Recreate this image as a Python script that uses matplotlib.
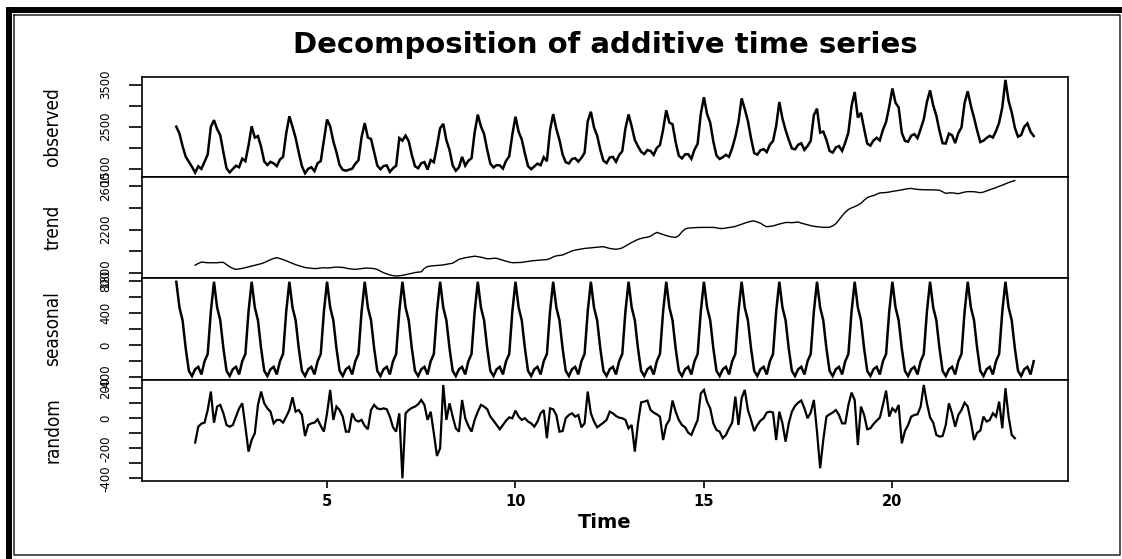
import numpy as np
import matplotlib
matplotlib.use("Agg")
import matplotlib.pyplot as plt
from matplotlib.lines import Line2D
from matplotlib import font_manager
from matplotlib.ticker import FixedLocator, FixedFormatter

# ---------------- data (monthly series, frequency 12, start = 1) ----------------
start_time = 1.0
frequency = 12

observed = [
    2500, 2340, 2040, 1790, 1670, 1550, 1413, 1564, 1502, 1671, 1842, 2495,
    2657, 2445, 2299, 1893, 1515, 1419, 1500, 1577, 1541, 1745, 1686, 2056,
    2511, 2243, 2279, 2026, 1678, 1593, 1669, 1632, 1568, 1724, 1787, 2345,
    2748, 2501, 2233, 1885, 1564, 1400, 1504, 1542, 1449, 1638, 1688, 2182,
    2672, 2509, 2154, 1895, 1591, 1480, 1459, 1483, 1507, 1625, 1708, 2254,
    2586, 2245, 2211, 1892, 1581, 1495, 1571, 1585, 1431, 1519, 1576, 2231,
    2171, 2290, 2158, 1829, 1565, 1518, 1636, 1664, 1486, 1711, 1660, 2041,
    2464, 2569, 2181, 1947, 1584, 1458, 1539, 1788, 1578, 1697, 1753, 2366,
    2787, 2507, 2328, 1953, 1625, 1537, 1592, 1585, 1509, 1695, 1799, 2317,
    2739, 2380, 2199, 1864, 1567, 1495, 1561, 1627, 1589, 1778, 1683, 2421,
    2800, 2452, 2185, 1843, 1660, 1630, 1738, 1754, 1675, 1763, 1884, 2629,
    2856, 2485, 2290, 1957, 1695, 1640, 1772, 1787, 1670, 1829, 1923, 2459,
    2791, 2508, 2185, 2037, 1906, 1853, 1949, 1925, 1833, 2001, 2066, 2429,
    2891, 2597, 2560, 2134, 1814, 1750, 1845, 1849, 1741, 1958, 2099, 2807,
    3200, 2802, 2597, 2147, 1819, 1737, 1778, 1835, 1788, 1995, 2264, 2615,
    3172, 2919, 2635, 2226, 1875, 1840, 1944, 1970, 1900, 2074, 2162, 2518,
    3086, 2695, 2420, 2192, 1988, 1964, 2074, 2108, 1953, 2044, 2165, 2773,
    2929, 2361, 2386, 2192, 1928, 1888, 2010, 2042, 1928, 2126, 2364, 2991,
    3323, 2717, 2830, 2452, 2101, 2053, 2175, 2239, 2176, 2428, 2615, 2976,
    3407, 3069, 2959, 2358, 2165, 2146, 2289, 2325, 2230, 2445, 2678, 3086,
    3362, 3006, 2763, 2400, 2110, 2103, 2337, 2301, 2113, 2352, 2482, 3069,
    3340, 2996, 2713, 2408, 2137, 2171, 2234, 2285, 2244, 2397, 2599, 2961,
    3610, 3113, 2841, 2477, 2264, 2303, 2500, 2579, 2380, 2280,
]

# trend and random are defined from t = 1.5 (6 months in) to 6 months before the end
trend_start = 1.5
trend = [
    1875, 1890, 1903, 1900, 1897, 1897,
    1897, 1897, 1900, 1900, 1880, 1860, 1845, 1836, 1840, 1845, 1852, 1858,
    1866, 1873, 1880, 1888, 1898, 1912, 1925, 1936, 1944, 1935, 1926, 1914,
    1903, 1891, 1879, 1870, 1862, 1853, 1849, 1846, 1843, 1845, 1849, 1851,
    1849, 1850, 1855, 1857, 1856, 1854, 1848, 1842, 1839, 1836, 1840, 1845,
    1847, 1848, 1846, 1843, 1835, 1820, 1805, 1795, 1785, 1779, 1775, 1778,
    1781, 1787, 1793, 1800, 1807, 1810, 1814, 1845, 1862, 1867, 1870, 1872,
    1874, 1877, 1882, 1887, 1893, 1910, 1928, 1936, 1943, 1948, 1952, 1957,
    1953, 1948, 1940, 1933, 1934, 1938, 1937, 1928, 1919, 1911, 1903, 1897,
    1898, 1899, 1900, 1904, 1909, 1914, 1917, 1919, 1921, 1923, 1926, 1935,
    1950, 1960, 1964, 1968, 1980, 1993, 2005, 2013, 2018, 2023, 2028, 2031,
    2033, 2037, 2040, 2042, 2044, 2036, 2028, 2024, 2020, 2025, 2033, 2050,
    2068, 2083, 2097, 2111, 2120, 2127, 2131, 2140, 2160, 2175, 2165, 2154,
    2146, 2138, 2132, 2130, 2145, 2180, 2205, 2215, 2217, 2218, 2220, 2221,
    2221, 2221, 2221, 2221, 2217, 2211, 2211, 2216, 2220, 2224, 2230, 2240,
    2249, 2260, 2270, 2277, 2280, 2270, 2260, 2240, 2227, 2230, 2234, 2243,
    2252, 2259, 2266, 2266, 2264, 2267, 2270, 2260, 2252, 2244, 2237, 2231,
    2228, 2224, 2221, 2221, 2222, 2235, 2255, 2290, 2327, 2360, 2385, 2400,
    2411, 2425, 2442, 2470, 2494, 2505, 2513, 2525, 2537, 2539, 2541, 2545,
    2551, 2555, 2560, 2565, 2570, 2576, 2578, 2573, 2569, 2567, 2566, 2566,
    2566, 2565, 2564, 2562, 2548, 2533, 2537, 2538, 2534, 2530, 2537, 2545,
    2549, 2548, 2548, 2544, 2539, 2545, 2556, 2566, 2576, 2586, 2598, 2608,
    2620, 2632, 2642, 2650,
]

# seasonal figure (Jan .. Dec), repeated every year
seasonal_figure = [790, 470, 310, -40, -320, -385, -300, -270, -365, -200, -110, 420]

random_part = [
    -162, -56, -36, -29, 55, 178,
    -30, 78, 89, 33, -45, -56, -45, 11, 66, 100, -56, -222,
    -145, -100, 89, 178, 100, 66, 44, -34, -11, -11, -29, 11,
    55, 140, 44, 55, 22, -118, -45, -34, -29, -7, -51, -89,
    33, 189, -11, 78, 55, 11, -89, -89, 33, -11, -22, -11,
    -51, -73, 55, 89, 66, 60, 66, 60, 11, -60, -89, 33,
    -400, 33, 55, 69, 78, 93, 122, 89, -11, 44, -100, -251,
    -200, 222, -11, 100, 11, -67, -89, 122, 0, -51, -89, -11,
    44, 89, 78, 60, 11, -16, -45, -73, -45, -16, 6, 0,
    51, 11, -11, 0, -22, -34, -56, -22, 33, 55, -133, 66,
    60, 22, -89, -85, 0, 22, 33, 11, 22, -60, -34, 178,
    33, -22, -60, -45, -29, -11, 44, 33, 15, 4, 0, -11,
    -67, -45, -222, -34, 106, 111, 118, 55, 38, 26, 11, -145,
    -45, -11, 118, 44, -11, -45, -60, -96, -111, -60, -11, 166,
    189, 111, 66, -34, -78, -89, -133, -111, -67, -29, 144, -45,
    133, 189, 55, -11, -85, -45, -16, 0, 38, 44, 38, -145,
    44, -34, -156, -34, 44, 82, 104, 118, 66, 0, 38, 122,
    -89, -333, -145, 11, 26, 38, 55, 22, -34, -34, 89, 171,
    122, -178, 78, 22, -73, -67, -38, -16, 4, 89, 184, 11,
    66, 44, 89, -167, -85, -45, 11, 22, 26, 78, 222, 100,
    6, -29, -111, -122, -118, -45, 100, 33, -56, 22, 55, 104,
    78, -22, -145, -96, -82, 11, -22, -11, 33, 11, 111, -67,
    200, 11, -111, -133,
]

panel_names = ["observed", "trend", "seasonal", "random"]
y_ticks = [
    [1500, 2000, 2500, 3000, 3500],
    [1800, 2000, 2200, 2400, 2600],
    [-400, -200, 0, 200, 400, 600, 800],
    [-400, -300, -200, -100, 0, 100, 200],
]
y_ticklabels = [
    ["1500", "", "2500", "", "3500"],
    ["1800", "", "2200", "", "2600"],
    ["-400", "", "0", "", "400", "", "800"],
    ["-400", "", "-200", "", "0", "", "200"],
]
y_limits = [(1310, 3678), (1757, 2683), (-434, 837), (-418, 255)]
x_ticks = [5, 10, 15, 20]
title = "Decomposition of additive time series"
x_label = "Time"

# ---------------- build time axes ----------------
n_obs = len(observed)
t_obs = start_time + np.arange(n_obs) / frequency
t_mid = trend_start + np.arange(len(trend)) / frequency
month_index = np.arange(n_obs) % frequency
seasonal = np.asarray(seasonal_figure)[month_index]

series = [
    (t_obs, np.asarray(observed), 1.8),
    (t_mid, np.asarray(trend), 1.0),
    (t_obs, seasonal, 1.8),
    (t_mid, np.asarray(random_part), 1.6),
]

# ---------------- fonts ----------------
names = {f.name for f in font_manager.fontManager.ttflist}
if "Liberation Sans Narrow" in names:
    narrow = font_manager.FontProperties(family="Liberation Sans Narrow")
    narrow_scale = 1.0
else:
    narrow = font_manager.FontProperties(family="DejaVu Sans", stretch="condensed")
    narrow_scale = 0.85

# ---------------- figure ----------------
W, H = 1122, 559
fig = plt.figure(figsize=(W / 100, H / 100), dpi=100)
fig.patch.set_facecolor("white")


def fx(px):
    return px / W


def fy(py):
    return 1 - py / H


# frame of the screenshot
fig.add_artist(Line2D([fx(6), fx(1122)], [fy(10), fy(10)], color="black", lw=4.3,
                      transform=fig.transFigure, solid_capstyle="butt"))
fig.add_artist(Line2D([fx(9), fx(9)], [fy(7), fy(559)], color="black", lw=4.3,
                      transform=fig.transFigure, solid_capstyle="butt"))
fig.add_artist(Line2D([fx(14), fx(1120), fx(1120), fx(14), fx(14)],
                      [fy(15), fy(15), fy(555), fy(555), fy(15)],
                      color="#222222", lw=1.1, transform=fig.transFigure))

left_px, right_px = 142, 1068
edges_px = [77, 177, 278, 380, 481]
x_lo, x_hi = 0.09, 24.66

tick_fs = 11 * narrow_scale
label_fs = 16 * narrow_scale

axes = []
for i in range(4):
    top, bottom = edges_px[i], edges_px[i + 1]
    ax = fig.add_axes([fx(left_px), fy(bottom), fx(right_px - left_px), (bottom - top) / H])
    t, v, lw = series[i]
    ax.plot(t, v, color="black", lw=lw, solid_joinstyle="miter")
    ax.set_xlim(x_lo, x_hi)
    ax.set_ylim(*y_limits[i])
    for sp in ax.spines.values():
        sp.set_linewidth(1.2)
        sp.set_color("black")
    ax.yaxis.set_major_locator(FixedLocator(y_ticks[i]))
    ax.yaxis.set_major_formatter(FixedFormatter(y_ticklabels[i]))
    ax.tick_params(axis="y", direction="out", length=9.5, width=1.2, pad=12,
                   labelrotation=90, labelsize=tick_fs)
    for lab in ax.get_yticklabels():
        lab.set_fontproperties(narrow)
        lab.set_fontsize(tick_fs)
        lab.set_va("center")
    if i < 3:
        ax.set_xticks([])
    else:
        ax.set_xticks(x_ticks)
        ax.set_xticklabels([str(v) for v in x_ticks], fontsize=10.5, fontweight="bold")
        ax.tick_params(axis="x", direction="out", length=5, width=1.2, pad=4)
    fig.text(fx(53), fy((top + bottom) / 2), panel_names[i], rotation=90,
             ha="center", va="center", fontproperties=narrow,
             fontsize=label_fs)
    axes.append(ax)

fig.text(fx(605), fy(45), title, ha="center", va="center",
         fontsize=21, fontweight="bold", family="DejaVu Sans")
fig.text(fx(605), fy(523), x_label, ha="center", va="center",
         fontsize=14, fontweight="bold", family="DejaVu Sans")

fig.savefig("out.png", dpi=100, facecolor="white")
